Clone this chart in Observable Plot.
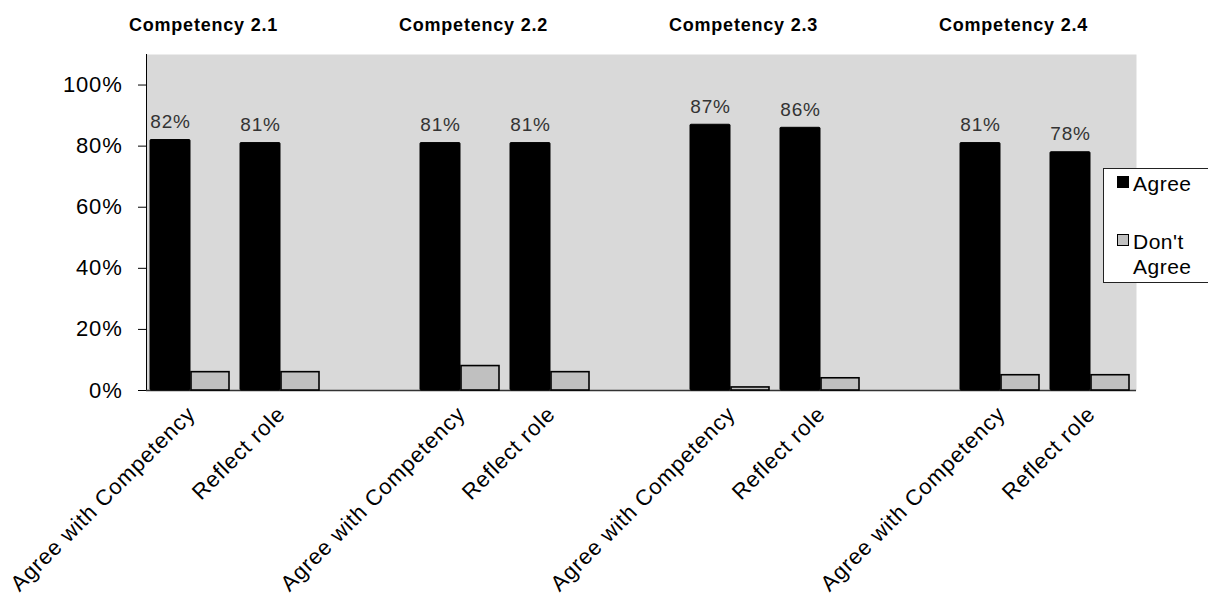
<!DOCTYPE html>
<html>
<head>
<meta charset="utf-8">
<script src="https://cdn.jsdelivr.net/npm/d3@7"></script>
<script src="https://cdn.jsdelivr.net/npm/@observablehq/plot@0.6"></script>
<style>
  html, body { margin: 0; padding: 0; background: #fff; }
  #wrap { position: relative; width: 1208px; height: 598px; overflow: hidden; font-family: "Liberation Sans", Arial, sans-serif; }
  #wrap svg text { letter-spacing: 0.8px; }
  #legend { position: absolute; left: 1103px; top: 168px; width: 130px; height: 115px; box-sizing: border-box;
            border: 1px solid #222; background: #fff; font-size: 21px; letter-spacing: 0.5px; color: #000; }
  .item { position: absolute; left: 13px; display: flex; align-items: flex-start; }
  .sw { width: 12px; height: 12px; box-sizing: border-box; border: 1px solid #000; margin-right: 4px; margin-top: 5px; }
  .lbl { line-height: 25px; }
</style>
</head>
<body>
<div id="wrap"></div>
<script>
// ---- data ----
const competencies = ["Competency 2.1", "Competency 2.2", "Competency 2.3", "Competency 2.4"];
const questions = ["Agree with Competency", "Reflect role"];
const seriesNames = ["Agree", "Don't Agree"];
const seriesColors = ["#000000", "#c0c0c0"];
const agreeValues = [82, 81, 81, 81, 87, 86, 81, 78];       // percent
const dontAgreeValues = [6, 6, 8, 6, 1, 4, 5, 5];          // percent
const yTicks = [0, 0.2, 0.4, 0.6, 0.8, 1.0];

// ---- build table ----
const slots = [];
const rows = [];
const firstSlot = [];
competencies.forEach((c, ci) => {
  questions.forEach((q, qi) => {
    const key = c + "|" + q;
    if (qi === 0) firstSlot.push(key);
    slots.push(key);
    const k = ci * questions.length + qi;
    rows.push({slot: key, competency: c, question: q,
               agree: agreeValues[k] / 100, dont: dontAgreeValues[k] / 100});
  });
  if (ci < competencies.length - 1) slots.push("gap" + ci);
});
const titles = competencies.map((c, i) => ({title: c, slot: firstSlot[i]}));
const slotLabel = s => s.startsWith("gap") ? "" : s.split("|")[1];

const chart = Plot.plot({
  width: 1208,
  height: 598,
  marginTop: 54,
  marginLeft: 146,
  marginRight: 72,
  marginBottom: 208,
  style: {fontFamily: "'Liberation Sans', Arial, sans-serif", background: "transparent", color: "#000"},
  x: {type: "band", domain: slots, padding: 0},
  y: {domain: [0, 1.1]},
  marks: [
    Plot.frame({fill: "#d9d9d9"}),
    Plot.frame({anchor: "left", stroke: "#000"}),
    Plot.ruleY([0], {stroke: "#333", strokeWidth: 1.5}),
    Plot.barY(rows, {x: "slot", y: "agree", fill: seriesColors[0], stroke: "#000", insetLeft: 4, insetRight: 46, rx: 1}),
    Plot.barY(rows, {x: "slot", y: "dont", fill: seriesColors[1], stroke: "#000", strokeWidth: 1.6, insetLeft: 45, insetRight: 7}),
    Plot.text(rows, {x: "slot", y: "agree", text: d => Math.round(d.agree * 100) + "%", dx: -21, dy: -12,
                     lineAnchor: "bottom", fontSize: 19, fill: "#333"}),
    Plot.text(titles, {x: "slot", text: "title", frameAnchor: "top", dx: 12, dy: -24, lineAnchor: "bottom",
                       fontSize: 18, fontWeight: "bold", fill: "#000"}),
    Plot.axisY({ticks: yTicks, tickFormat: d3.format(".0%"), tickSize: 8, tickPadding: 16, fontSize: 22, label: null}),
    Plot.axisX({tickSize: 0, tickRotate: -45, tickFormat: slotLabel, tickPadding: 20, fontSize: 22, label: null})
  ]
});
const wrap = document.getElementById("wrap");
wrap.appendChild(chart);

// ---- legend ----
const legend = document.createElement("div");
legend.id = "legend";
const tops = [2, 60];
seriesNames.forEach((name, i) => {
  const item = document.createElement("div");
  item.className = "item";
  item.style.top = tops[i] + "px";
  const sw = document.createElement("div");
  sw.className = "sw";
  sw.style.background = seriesColors[i];
  const lbl = document.createElement("div");
  lbl.className = "lbl";
  lbl.innerHTML = name.replace(" ", "<br>");
  item.appendChild(sw);
  item.appendChild(lbl);
  legend.appendChild(item);
});
wrap.appendChild(legend);
</script>
</body>
</html>
